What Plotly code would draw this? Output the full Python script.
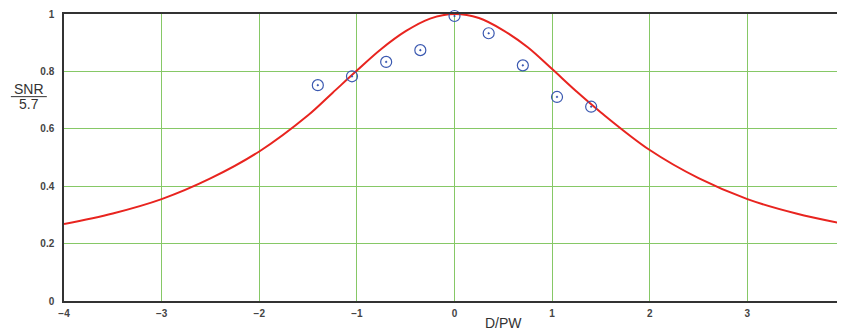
import plotly.graph_objects as go

# Red model curve
curve_x = [-4, -3.5, -3, -2.5, -2, -1.5, -1.25, -1, -0.75, -0.5, -0.25, 0,
           0.25, 0.5, 0.75, 1.0, 1.25, 1.5, 2, 2.5, 3, 3.5, 4]
curve_y = [0.268, 0.305, 0.355, 0.427, 0.521, 0.647, 0.725, 0.803, 0.878, 0.940, 0.984, 1.0,
           0.986, 0.943, 0.884, 0.808, 0.730, 0.657, 0.526, 0.428, 0.355, 0.305, 0.268]

# Measured points
meas_x = [-1.4, -1.05, -0.7, -0.35, 0, 0.35, 0.7, 1.05, 1.4]
meas_y = [0.752, 0.783, 0.833, 0.874, 0.993, 0.933, 0.821, 0.711, 0.677]

x_ticks = [-4, -3, -2, -1, 0, 1, 2, 3, 4]
x_ticktext = ["\u22124", "\u22123", "\u22122", "\u22121", "0", "1", "2", "3", "4"]
y_ticks = [0, 0.2, 0.4, 0.6, 0.8, 1]
y_ticktext = ["0", "0.2", "0.4", "0.6", "0.8", "1"]

grid_col = "#86c866"
axis_col = "#333333"
tick_font = dict(family="Liberation Sans", size=10, color="#444444", weight="bold")

fig = go.Figure()
fig.add_trace(go.Scatter(x=curve_x, y=curve_y, mode="lines",
                         line=dict(color="#e8241f", width=2, shape="spline", smoothing=1.0),
                         showlegend=False, hoverinfo="skip"))
fig.add_trace(go.Scatter(x=meas_x, y=meas_y, mode="markers",
                         marker=dict(symbol="circle-open-dot", size=11, color="#3a58b0",
                                     line=dict(width=1.2, color="#3a58b0")),
                         cliponaxis=False, showlegend=False))

# The page body has an 8px margin, so the figure is sized to fill the rest of the window.
fig.update_layout(
    width=837, height=325,
    margin=dict(l=56, r=0, t=6, b=32),
    paper_bgcolor="white", plot_bgcolor="white",
    xaxis=dict(range=[-4, 4], tickvals=x_ticks, ticktext=x_ticktext,
               showgrid=True, gridcolor=grid_col, gridwidth=1.3,
               showline=True, linecolor=axis_col, linewidth=1.5, mirror=True,
               zeroline=False, ticks="", tickfont=tick_font, ticklabelstandoff=2),
    yaxis=dict(range=[0, 1], tickvals=y_ticks, ticktext=y_ticktext,
               showgrid=True, gridcolor=grid_col, gridwidth=1.3,
               showline=True, linecolor=axis_col, linewidth=1.5,
               zeroline=False, ticks="", tickfont=tick_font, ticklabelstandoff=6),
    font=dict(family="Liberation Sans"),
)

# x-axis title
fig.add_annotation(text="D/PW", xref="paper", yref="paper", x=0.563, y=-0.077,
                   xanchor="center", yanchor="middle", showarrow=False,
                   font=dict(family="Liberation Sans", size=14, color="#333333"))
# y-axis title as a fraction SNR / 5.7
fig.add_annotation(text="SNR", xref="paper", yref="paper", x=-0.045, y=0.739,
                   xanchor="center", yanchor="middle", showarrow=False,
                   font=dict(family="Liberation Sans", size=14, color="#333333"))
fig.add_annotation(text="5.7", xref="paper", yref="paper", x=-0.045, y=0.688,
                   xanchor="center", yanchor="middle", showarrow=False,
                   font=dict(family="Liberation Sans", size=14, color="#333333"))
fig.add_shape(type="line", xref="paper", yref="paper", x0=-0.068, x1=-0.022, y0=0.712, y1=0.712,
              line=dict(color="#333333", width=1))

fig.write_html("out.html")
